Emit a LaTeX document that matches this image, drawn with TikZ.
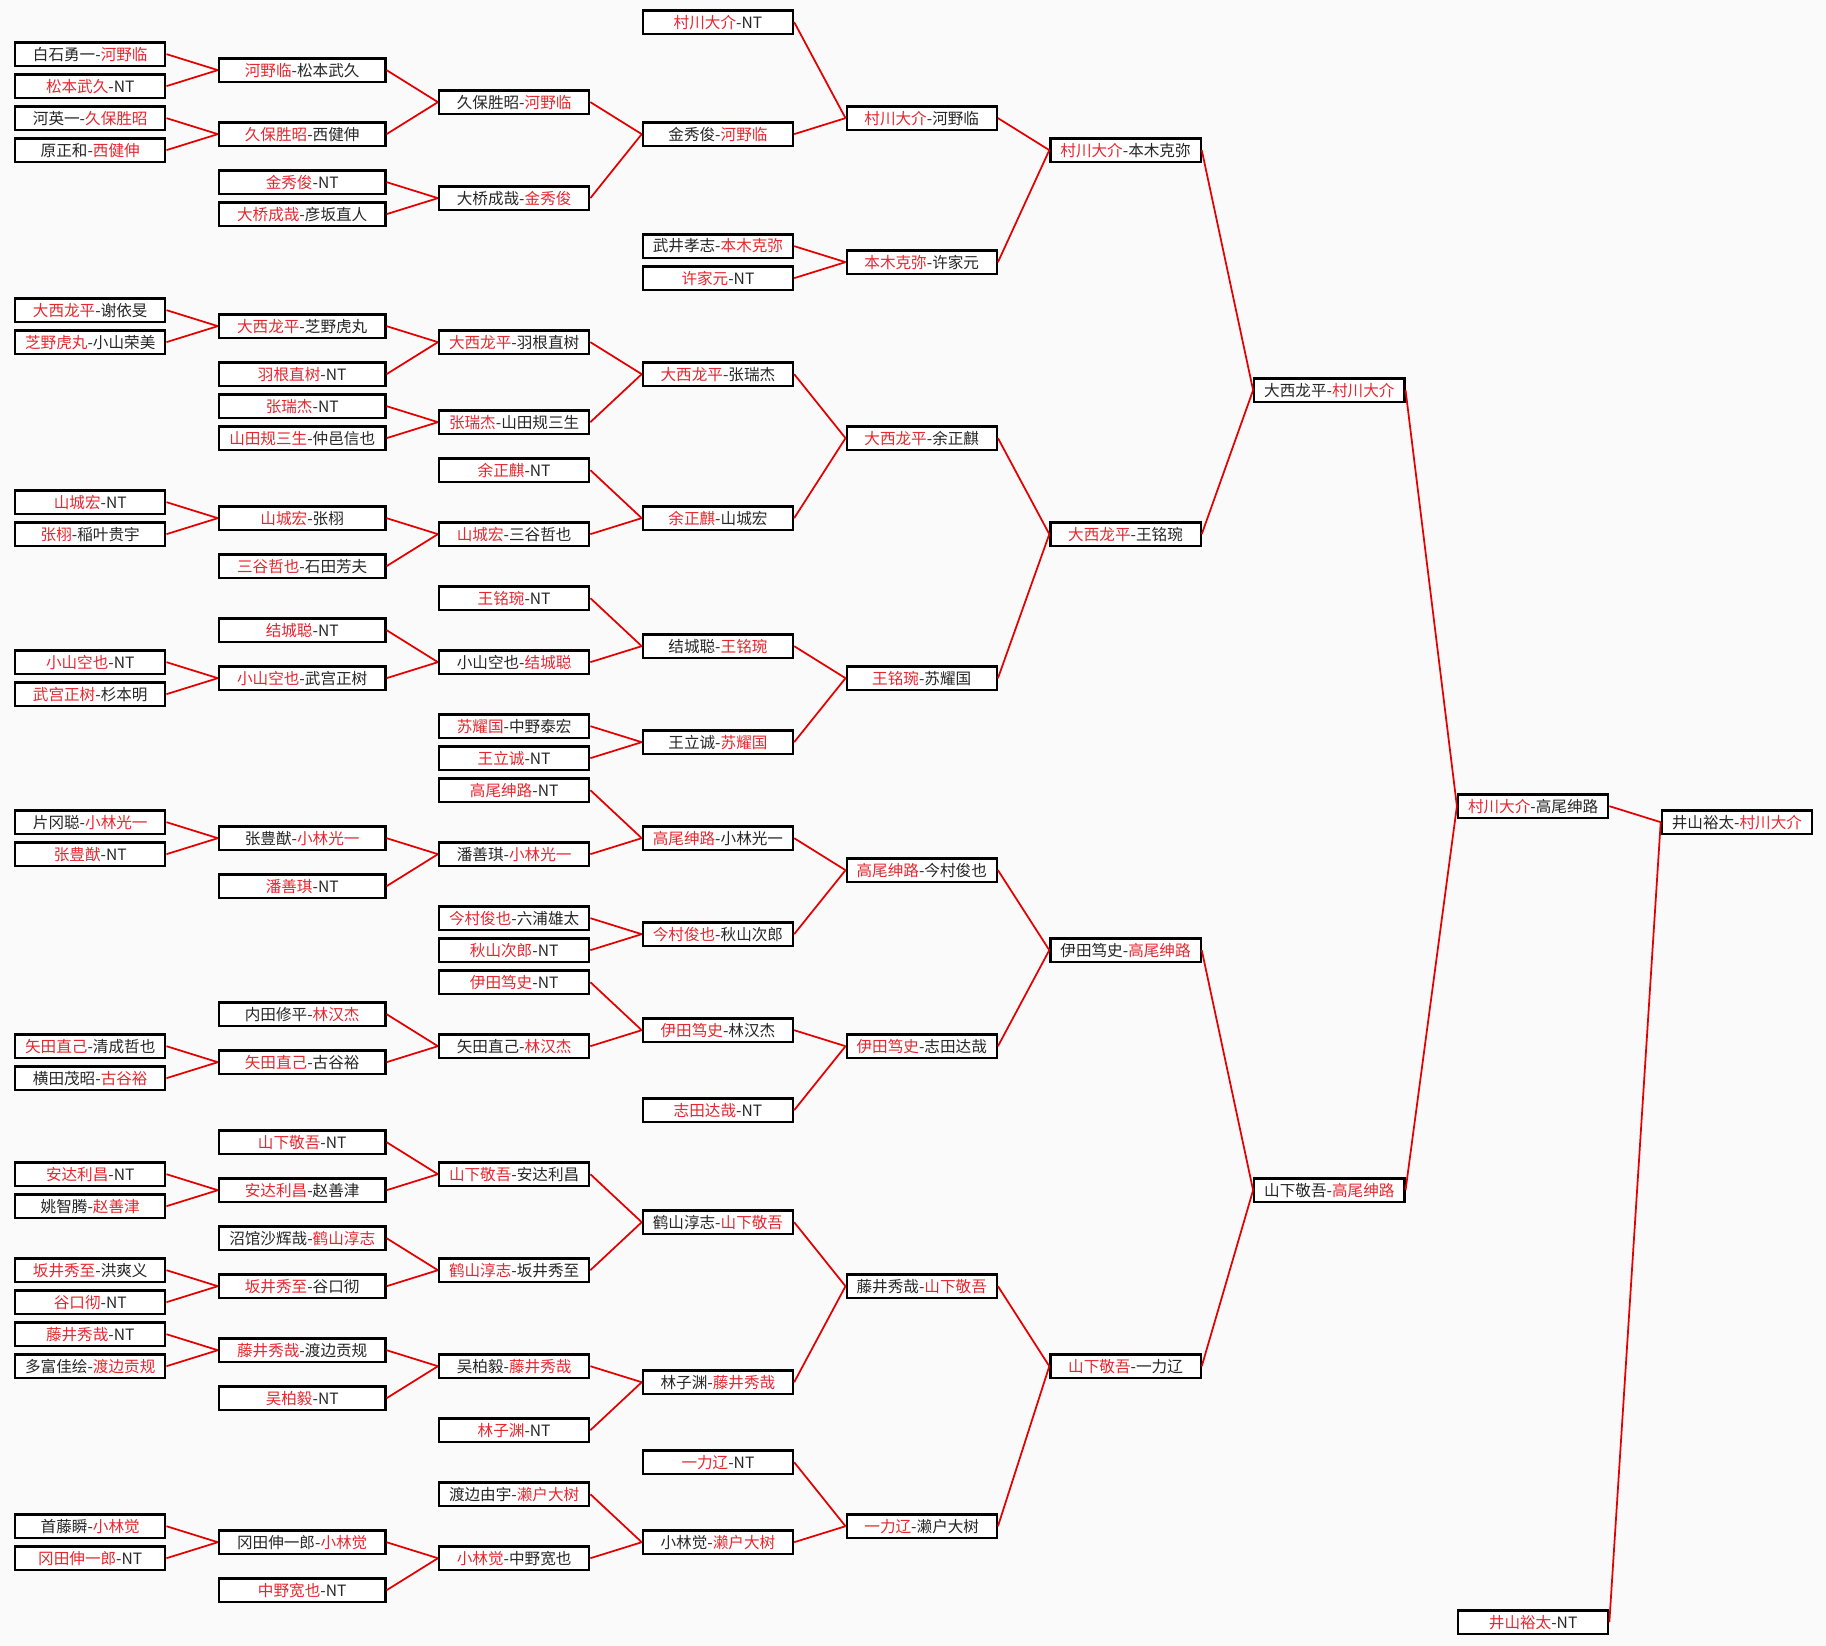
\documentclass[tikz,border=0pt]{standalone}
\usepackage{fontspec}
\setmainfont{Noto Sans CJK SC}
\definecolor{wr}{RGB}{228,40,48}
\definecolor{ln}{RGB}{228,0,0}
\definecolor{bgc}{RGB}{250,250,250}
\newcommand\rd[1]{\textcolor{wr}{#1}}
\def\colx#1{\ifcase#1 77.5\or 259.5\or 441.5\or 616.5\or 791.5\or 966.5\or 1141.5\or 1316.5\or 1491.5\fi}
\tikzset{
  bx/.style={draw=black, line width=1.9pt, fill=white, minimum height=20pt, inner sep=0pt,
    font=\fontsize{13.4}{14}\selectfont, text=black!85},
  link/.style={draw=ln, line width=1.5pt}
}
\newcommand\B[3]{\ifnum#1=1 \def\bw{143pt}\else\def\bw{129pt}\fi
  \node[bx,minimum width=\bw] (n#1k#2) at ({\colx{#1}},{19+13.74*#2}) {#3};}
\newcommand\J[3]{\draw[link] (#1.east) -- (#3.west); \draw[link] (#2.east) -- (#3.west);}
\begin{document}
\begin{tikzpicture}[x=1pt,y=-1pt]
\fill[bgc] (0,0) rectangle (1568,1413);
\useasboundingbox (0,0) rectangle (1568,1413);
% column 0
\B{0}{2}{白石勇一-\rd{河野临}}
\B{0}{4}{\rd{松本武久}-NT}
\B{0}{6}{河英一-\rd{久保胜昭}}
\B{0}{8}{原正和-\rd{西健伸}}
\B{0}{18}{\rd{大西龙平}-谢依旻}
\B{0}{20}{\rd{芝野虎丸}-小山荣美}
\B{0}{30}{\rd{山城宏}-NT}
\B{0}{32}{\rd{张栩}-稲叶贵宇}
\B{0}{40}{\rd{小山空也}-NT}
\B{0}{42}{\rd{武宫正树}-杉本明}
\B{0}{50}{片冈聪-\rd{小林光一}}
\B{0}{52}{\rd{张豊猷}-NT}
\B{0}{64}{\rd{矢田直己}-清成哲也}
\B{0}{66}{横田茂昭-\rd{古谷裕}}
\B{0}{72}{\rd{安达利昌}-NT}
\B{0}{74}{姚智腾-\rd{赵善津}}
\B{0}{78}{\rd{坂井秀至}-洪爽义}
\B{0}{80}{\rd{谷口彻}-NT}
\B{0}{82}{\rd{藤井秀哉}-NT}
\B{0}{84}{多富佳绘-\rd{渡边贡规}}
\B{0}{94}{首藤瞬-\rd{小林觉}}
\B{0}{96}{\rd{冈田伸一郎}-NT}
% column 1
\B{1}{3}{\rd{河野临}-松本武久}
\B{1}{7}{\rd{久保胜昭}-西健伸}
\B{1}{10}{\rd{金秀俊}-NT}
\B{1}{12}{\rd{大桥成哉}-彦坂直人}
\B{1}{19}{\rd{大西龙平}-芝野虎丸}
\B{1}{22}{\rd{羽根直树}-NT}
\B{1}{24}{\rd{张瑞杰}-NT}
\B{1}{26}{\rd{山田规三生}-仲邑信也}
\B{1}{31}{\rd{山城宏}-张栩}
\B{1}{34}{\rd{三谷哲也}-石田芳夫}
\B{1}{38}{\rd{结城聪}-NT}
\B{1}{41}{\rd{小山空也}-武宫正树}
\B{1}{51}{张豊猷-\rd{小林光一}}
\B{1}{54}{\rd{潘善琪}-NT}
\B{1}{62}{内田修平-\rd{林汉杰}}
\B{1}{65}{\rd{矢田直己}-古谷裕}
\B{1}{70}{\rd{山下敬吾}-NT}
\B{1}{73}{\rd{安达利昌}-赵善津}
\B{1}{76}{沼馆沙辉哉-\rd{鹤山淳志}}
\B{1}{79}{\rd{坂井秀至}-谷口彻}
\B{1}{83}{\rd{藤井秀哉}-渡边贡规}
\B{1}{86}{\rd{吴柏毅}-NT}
\B{1}{95}{冈田伸一郎-\rd{小林觉}}
\B{1}{98}{\rd{中野宽也}-NT}
% column 2
\B{2}{5}{久保胜昭-\rd{河野临}}
\B{2}{11}{大桥成哉-\rd{金秀俊}}
\B{2}{20}{\rd{大西龙平}-羽根直树}
\B{2}{25}{\rd{张瑞杰}-山田规三生}
\B{2}{28}{\rd{余正麒}-NT}
\B{2}{32}{\rd{山城宏}-三谷哲也}
\B{2}{36}{\rd{王铭琬}-NT}
\B{2}{40}{小山空也-\rd{结城聪}}
\B{2}{44}{\rd{苏耀国}-中野泰宏}
\B{2}{46}{\rd{王立诚}-NT}
\B{2}{48}{\rd{高尾绅路}-NT}
\B{2}{52}{潘善琪-\rd{小林光一}}
\B{2}{56}{\rd{今村俊也}-六浦雄太}
\B{2}{58}{\rd{秋山次郎}-NT}
\B{2}{60}{\rd{伊田笃史}-NT}
\B{2}{64}{矢田直己-\rd{林汉杰}}
\B{2}{72}{\rd{山下敬吾}-安达利昌}
\B{2}{78}{\rd{鹤山淳志}-坂井秀至}
\B{2}{84}{吴柏毅-\rd{藤井秀哉}}
\B{2}{88}{\rd{林子渊}-NT}
\B{2}{92}{渡边由宇-\rd{濑户大树}}
\B{2}{96}{\rd{小林觉}-中野宽也}
% column 3
\B{3}{0}{\rd{村川大介}-NT}
\B{3}{7}{金秀俊-\rd{河野临}}
\B{3}{14}{武井孝志-\rd{本木克弥}}
\B{3}{16}{\rd{许家元}-NT}
\B{3}{22}{\rd{大西龙平}-张瑞杰}
\B{3}{31}{\rd{余正麒}-山城宏}
\B{3}{39}{结城聪-\rd{王铭琬}}
\B{3}{45}{王立诚-\rd{苏耀国}}
\B{3}{51}{\rd{高尾绅路}-小林光一}
\B{3}{57}{\rd{今村俊也}-秋山次郎}
\B{3}{63}{\rd{伊田笃史}-林汉杰}
\B{3}{68}{\rd{志田达哉}-NT}
\B{3}{75}{鹤山淳志-\rd{山下敬吾}}
\B{3}{85}{林子渊-\rd{藤井秀哉}}
\B{3}{90}{\rd{一力辽}-NT}
\B{3}{95}{小林觉-\rd{濑户大树}}
% column 4
\B{4}{6}{\rd{村川大介}-河野临}
\B{4}{15}{\rd{本木克弥}-许家元}
\B{4}{26}{\rd{大西龙平}-余正麒}
\B{4}{41}{\rd{王铭琬}-苏耀国}
\B{4}{53}{\rd{高尾绅路}-今村俊也}
\B{4}{64}{\rd{伊田笃史}-志田达哉}
\B{4}{79}{藤井秀哉-\rd{山下敬吾}}
\B{4}{94}{\rd{一力辽}-濑户大树}
% column 5
\B{5}{8}{\rd{村川大介}-本木克弥}
\B{5}{32}{\rd{大西龙平}-王铭琬}
\B{5}{58}{伊田笃史-\rd{高尾绅路}}
\B{5}{84}{\rd{山下敬吾}-一力辽}
% column 6
\B{6}{23}{大西龙平-\rd{村川大介}}
\B{6}{73}{山下敬吾-\rd{高尾绅路}}
% column 7
\B{7}{49}{\rd{村川大介}-高尾绅路}
\B{7}{100}{\rd{井山裕太}-NT}
% column 8
\B{8}{50}{井山裕太-\rd{村川大介}}
% connectors
\J{n0k2}{n0k4}{n1k3}
\J{n0k6}{n0k8}{n1k7}
\J{n1k3}{n1k7}{n2k5}
\J{n1k10}{n1k12}{n2k11}
\J{n2k5}{n2k11}{n3k7}
\J{n3k0}{n3k7}{n4k6}
\J{n3k14}{n3k16}{n4k15}
\J{n4k6}{n4k15}{n5k8}
\J{n0k18}{n0k20}{n1k19}
\J{n1k19}{n1k22}{n2k20}
\J{n1k24}{n1k26}{n2k25}
\J{n2k20}{n2k25}{n3k22}
\J{n0k30}{n0k32}{n1k31}
\J{n1k31}{n1k34}{n2k32}
\J{n2k28}{n2k32}{n3k31}
\J{n3k22}{n3k31}{n4k26}
\J{n0k40}{n0k42}{n1k41}
\J{n1k38}{n1k41}{n2k40}
\J{n2k36}{n2k40}{n3k39}
\J{n2k44}{n2k46}{n3k45}
\J{n3k39}{n3k45}{n4k41}
\J{n4k26}{n4k41}{n5k32}
\J{n5k8}{n5k32}{n6k23}
\J{n0k50}{n0k52}{n1k51}
\J{n1k51}{n1k54}{n2k52}
\J{n2k48}{n2k52}{n3k51}
\J{n2k56}{n2k58}{n3k57}
\J{n3k51}{n3k57}{n4k53}
\J{n0k64}{n0k66}{n1k65}
\J{n1k62}{n1k65}{n2k64}
\J{n2k60}{n2k64}{n3k63}
\J{n3k63}{n3k68}{n4k64}
\J{n4k53}{n4k64}{n5k58}
\J{n0k72}{n0k74}{n1k73}
\J{n1k70}{n1k73}{n2k72}
\J{n0k78}{n0k80}{n1k79}
\J{n1k76}{n1k79}{n2k78}
\J{n2k72}{n2k78}{n3k75}
\J{n0k82}{n0k84}{n1k83}
\J{n1k83}{n1k86}{n2k84}
\J{n2k84}{n2k88}{n3k85}
\J{n3k75}{n3k85}{n4k79}
\J{n0k94}{n0k96}{n1k95}
\J{n1k95}{n1k98}{n2k96}
\J{n2k92}{n2k96}{n3k95}
\J{n3k90}{n3k95}{n4k94}
\J{n4k79}{n4k94}{n5k84}
\J{n5k58}{n5k84}{n6k73}
\J{n6k23}{n6k73}{n7k49}
\J{n7k49}{n7k100}{n8k50}
\end{tikzpicture}
\end{document}
